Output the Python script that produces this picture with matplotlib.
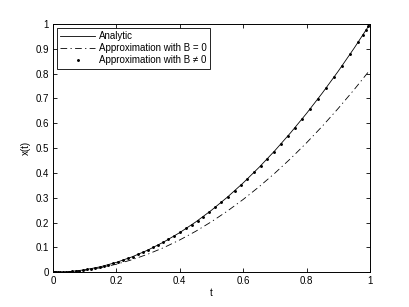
import matplotlib
matplotlib.use("Agg")
import matplotlib.pyplot as plt

plt.rcParams["font.family"] = ["Liberation Sans", "DejaVu Sans"]

# analytic solution
t_exact = [0, 0.05, 0.1, 0.15, 0.2, 0.25, 0.3, 0.35, 0.4, 0.45, 0.5,
           0.55, 0.6, 0.65, 0.7, 0.75, 0.8, 0.85, 0.9, 0.95, 1.0]
x_exact = [0, 0.0025, 0.01, 0.0225, 0.04, 0.0625, 0.09, 0.1225, 0.16, 0.2025, 0.25,
           0.3025, 0.36, 0.4225, 0.49, 0.5625, 0.64, 0.7225, 0.81, 0.9025, 1.0]

# approximation with B = 0
x_b0 = [0, 0.002, 0.0082, 0.0183, 0.0326, 0.0509, 0.0734, 0.0998, 0.1304, 0.165, 0.2038,
        0.2465, 0.2934, 0.3443, 0.3994, 0.4584, 0.5216, 0.5888, 0.6602, 0.7355, 0.815]

# approximation with B != 0 (marker nodes)
t_nodes = [0, 0.002, 0.005, 0.01, 0.016, 0.023, 0.031, 0.04, 0.05, 0.06, 0.071,
           0.083, 0.095, 0.107, 0.12, 0.133, 0.147, 0.161, 0.175, 0.19, 0.205,
           0.22, 0.236, 0.252, 0.268, 0.284, 0.3, 0.316, 0.332, 0.348, 0.364,
           0.383, 0.402, 0.42, 0.438, 0.456, 0.474, 0.493, 0.512, 0.531, 0.552,
           0.573, 0.593, 0.613, 0.634, 0.655, 0.676, 0.697, 0.718, 0.74, 0.763,
           0.786, 0.81, 0.835, 0.861, 0.887, 0.912, 0.937, 0.963, 0.978, 0.988,
           0.995, 1.0]
x_nodes = [0, 0.0, 0.0, 0.0001, 0.0003, 0.0005, 0.001, 0.0016, 0.0025, 0.0036, 0.005,
           0.0069, 0.009, 0.0114, 0.0144, 0.0177, 0.0216, 0.0259, 0.0306, 0.0361, 0.042,
           0.0484, 0.0557, 0.0635, 0.0718, 0.0807, 0.09, 0.0999, 0.1102, 0.1211, 0.1325,
           0.1467, 0.1616, 0.1764, 0.1918, 0.2079, 0.2247, 0.243, 0.2621, 0.282, 0.3047,
           0.3283, 0.3516, 0.3758, 0.402, 0.429, 0.457, 0.4858, 0.5155, 0.5476, 0.5822,
           0.6178, 0.6561, 0.6972, 0.7413, 0.7868, 0.8317, 0.878, 0.9274, 0.9565, 0.9761,
           0.99, 1.0]

xticks = [0, 0.2, 0.4, 0.6, 0.8, 1]
yticks = [0, 0.1, 0.2, 0.3, 0.4, 0.5, 0.6, 0.7, 0.8, 0.9, 1]

fig = plt.figure(figsize=(4.09, 3.07), dpi=100)
ax = fig.add_axes([0.1296, 0.113, 0.775, 0.809])

ax.plot(t_exact, x_exact, "k-", lw=0.6, label="Analytic")
ax.plot(t_exact, x_b0, "k", lw=0.6, dashes=[8, 4, 1.5, 4], label="Approximation with B = 0")
ax.plot(t_nodes, x_nodes, "k.", ms=2.2, label="Approximation with B \u2260 0")

ax.set_xlim(0, 1); ax.set_ylim(0, 1)
ax.set_xticks(xticks); ax.set_yticks(yticks)
ax.set_xticklabels([f"{v:g}" for v in xticks])
ax.set_yticklabels([f"{v:g}" for v in yticks])
ax.tick_params(direction="in", length=3, width=0.6, labelsize=7, top=True, right=True, pad=3)
for s in ax.spines.values():
    s.set_linewidth(0.7)
ax.set_xlabel("t", fontsize=7, labelpad=1)
ax.set_ylabel("x(t)", fontsize=7, labelpad=3)

leg = ax.legend(loc="upper left", fontsize=7, fancybox=False, framealpha=1,
                edgecolor="black", handlelength=3.6, handletextpad=0.4,
                borderaxespad=0.4, labelspacing=0.2, borderpad=0.35, numpoints=1)
leg.get_frame().set_linewidth(0.6)

fig.savefig("out.png", dpi=100)
